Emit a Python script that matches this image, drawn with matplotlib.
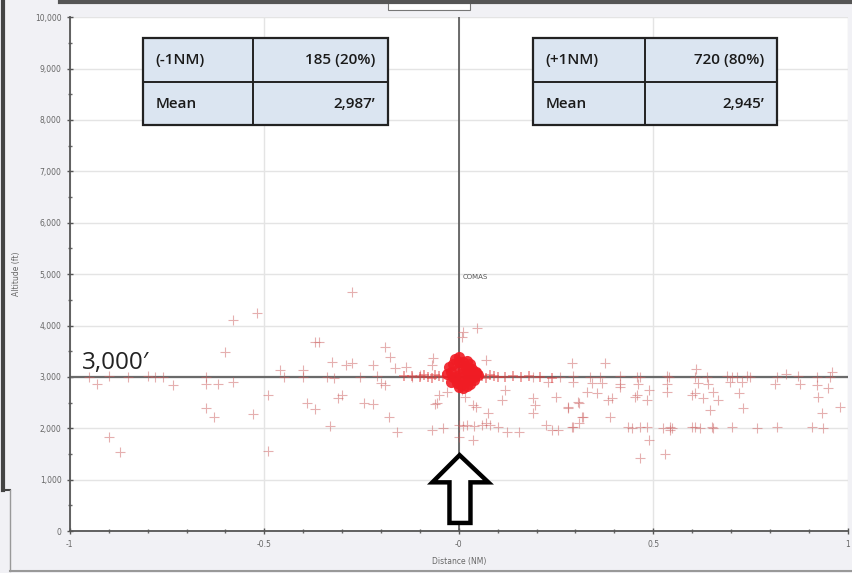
import matplotlib
matplotlib.use("Agg")
import matplotlib.pyplot as plt
from matplotlib.patches import Rectangle, Polygon
from matplotlib.ticker import MultipleLocator, FuncFormatter
from matplotlib.lines import Line2D

# --- data (distance NM, altitude ft) ---
west_pts = [(-0.95, 3000), (-0.90, 3010), (-0.85, 3000), (-0.80, 3020), (-0.78, 2990),
            (-0.76, 3000), (-0.93, 2860), (-0.735, 2840), (-0.65, 3000), (-0.65, 2860),
            (-0.62, 2860), (-0.58, 2900), (-0.65, 2390), (-0.63, 2220), (-0.53, 2280),
            (-0.90, 1830), (-0.87, 1540), (-0.49, 2650), (-0.58, 4100), (-0.52, 4240),
            (-0.60, 3480), (-0.275, 4650), (-0.37, 3680), (-0.36, 3680), (-0.325, 3290),
            (-0.29, 3230), (-0.275, 3270), (-0.19, 3580), (-0.177, 3390), (-0.165, 3170),
            (-0.135, 3190), (-0.067, 3370), (-0.07, 3230), (-0.46, 3130), (-0.40, 3130),
            (-0.22, 3230), (-0.40, 3000), (-0.34, 3000), (-0.255, 3000), (-0.21, 3020),
            (-0.12, 3000), (-0.10, 3040), (-0.20, 2880), (-0.19, 2840), (-0.32, 2980),
            (-0.39, 2490), (-0.37, 2370), (-0.31, 2590), (-0.30, 2650), (-0.245, 2490),
            (-0.22, 2470), (-0.18, 2220), (-0.16, 1930), (-0.33, 2040), (-0.06, 2470),
            (-0.07, 1960), (-0.04, 2000), (-0.49, 1560), (-0.45, 2990), (-0.03, 2700),
            (-0.05, 2650)]

east_pts = [(0.046, 3950), (0.01, 3870), (0.008, 3780), (0.07, 3330), (0.29, 3270),
            (0.19, 3000), (0.008, 2740), (0.015, 2610), (0.036, 2450), (0.045, 2410),
            (-0.057, 2490), (0.075, 2300), (0.07, 2100), (0.11, 2550), (0.12, 2740),
            (0.19, 2590), (0.195, 2450), (0.19, 2300), (0.23, 2900), (0.25, 2610),
            (0.28, 2410), (0.31, 2490), (0.32, 2220), (0.0, 2060), (0.01, 2050),
            (0.02, 2060), (0.04, 2050), (0.06, 2060), (0.08, 2060), (0.10, 2020),
            (0.125, 1930), (0.155, 1930), (0.225, 2060), (0.24, 1960), (0.255, 1960),
            (0.29, 2020), (0.31, 2100), (0.036, 1770), (0.0, 1830),
            (0.26, 3000), (0.293, 3010), (0.337, 2990), (0.362, 3000), (0.414, 3010),
            (0.458, 2990), (0.465, 3000), (0.535, 3010), (0.54, 2990), (0.607, 3000),
            (0.638, 3000), (0.689, 3010), (0.702, 2990), (0.715, 3000), (0.74, 3010),
            (0.748, 2990), (0.817, 3000), (0.871, 3010), (0.92, 3000), (0.954, 2990),
            (0.375, 3270), (0.61, 3150), (0.96, 3090), (0.84, 3050),
            (0.293, 2900), (0.342, 2880), (0.368, 2880), (0.414, 2860), (0.46, 2860),
            (0.535, 2860), (0.614, 2880), (0.64, 2860), (0.697, 2900), (0.728, 2900),
            (0.812, 2860), (0.877, 2860), (0.92, 2840),
            (0.33, 2700), (0.355, 2680), (0.414, 2800), (0.458, 2650), (0.49, 2740),
            (0.535, 2700), (0.60, 2650), (0.607, 2680), (0.627, 2590), (0.653, 2700),
            (0.666, 2550), (0.72, 2680), (0.95, 2780), (0.923, 2610),
            (0.306, 2510), (0.28, 2390), (0.383, 2550), (0.393, 2590), (0.452, 2610),
            (0.483, 2550), (0.645, 2350), (0.73, 2390), (0.933, 2300), (0.98, 2410),
            (0.316, 2220), (0.388, 2220),
            (0.293, 2020), (0.434, 2020), (0.445, 2010), (0.465, 2020), (0.483, 2020),
            (0.524, 2010), (0.542, 2030), (0.548, 2000), (0.60, 2020), (0.607, 2030),
            (0.62, 2010), (0.65, 2020), (0.653, 2000), (0.702, 2020), (0.766, 2010),
            (0.817, 2020), (0.907, 2020), (0.936, 2010),
            (0.49, 1770), (0.465, 1420), (0.53, 1500), (0.542, 1960)]

# dense blob right at the fix
blob_x = [-0.03, -0.02, -0.01, 0.0, 0.01, 0.02, 0.03, 0.04, 0.05,
          -0.025, -0.015, 0.0, 0.015, 0.025, 0.035, 0.045,
          -0.02, -0.005, 0.005, 0.02, 0.03, 0.04,
          -0.01, 0.0, 0.01, 0.02, 0.03,
          0.0, 0.01, 0.02,
          -0.015, 0.005, 0.025, 0.045]
blob_y = [3050, 3100, 2980, 3150, 3000, 3120, 3050, 2990, 3030,
          3200, 3250, 3300, 3220, 3180, 3150, 3100,
          2900, 2880, 2850, 2920, 2870, 2950,
          3350, 3380, 3300, 3320, 3250,
          2800, 2780, 2820,
          3000, 3050, 3000, 3080]

# band of crossings hugging the 3,000 ft line near the fix
band_x = [-0.14, -0.12, -0.10, -0.09, -0.08, -0.07, -0.06, -0.05, -0.04,
          0.06, 0.07, 0.08, 0.09, 0.10, 0.12, 0.14, 0.16, 0.18, 0.21, 0.24]
band_y = [3020, 3010, 2990, 3040, 3000, 2980, 3030, 3020, 2990,
          3010, 2980, 3040, 3010, 2990, 3000, 3020, 2990, 3010, 3000, 2980]

x_ticks = [-1, -0.5, 0, 0.5, 1]
x_labels = ["-1", "-0.5", "-0", "0.5", "1"]
left_table = [["(-1NM)", "185 (20%)"], ["Mean", "2,987\u2019"]]
right_table = [["(+1NM)", "720 (80%)"], ["Mean", "2,945\u2019"]]

fig = plt.figure(figsize=(8.52, 5.73), dpi=100, facecolor="#f1f1f5")
ax = fig.add_axes([0.082, 0.073, 0.913, 0.897])
ax.set_facecolor("white")

ax.set_xlim(-1, 1)
ax.set_ylim(0, 10000)
ax.xaxis.set_minor_locator(MultipleLocator(0.1))
ax.yaxis.set_major_locator(MultipleLocator(1000))
ax.yaxis.set_minor_locator(MultipleLocator(500))
ax.set_xticks(x_ticks)
ax.set_xticklabels(x_labels)
ax.yaxis.set_major_formatter(FuncFormatter(lambda v, p: f"{int(v):,}"))
ax.tick_params(which="major", direction="inout", length=5, width=1, color="#555",
               labelsize=5.5, labelcolor="#666")
ax.tick_params(which="minor", direction="inout", length=3, width=1, color="#666")
ax.grid(True, which="major", color="#e4e4e4", lw=1)
ax.set_axisbelow(True)
for s in ["top", "right"]:
    ax.spines[s].set_visible(False)
for s in ["left", "bottom"]:
    ax.spines[s].set_color("#555")
    ax.spines[s].set_linewidth(1.3)
ax.set_xlabel("Distance (NM)", fontsize=5.5, color="#666", labelpad=6)
ax.set_ylabel("Altitude (ft)", fontsize=5.5, color="#666", labelpad=10)

# reference lines
ax.axhline(3000, color="#6a6a6a", lw=1.6, zorder=2)
ax.axvline(0, color="#555", lw=1.2, zorder=2)
ax.text(0.01, 4950, "COMAS", fontsize=5, color="#555", va="center")

mk = dict(ls="none", marker="+", color="#cc6060", alpha=0.5, ms=7, mew=0.8, zorder=3)
ax.plot([p[0] for p in west_pts], [p[1] for p in west_pts], **mk)
ax.plot([p[0] for p in east_pts], [p[1] for p in east_pts], **mk)
ax.plot(band_x, band_y, ls="none", marker="+", color="#e03a3a", alpha=0.6,
        ms=7, mew=1.1, zorder=3)
ax.plot(blob_x, blob_y, ls="none", marker="o", color="#f01c24", alpha=0.9,
        ms=8, mew=0, zorder=4)

ax.text(0.015, 0.316, "3,000\u2032", transform=ax.transAxes, fontsize=17.5,
        family="Open Sans", color="#222", zorder=6)


def draw_table(x0, x_mid, x1, rows):
    y_top, y_mid, y_bot = 0.959, 0.873, 0.790
    ax.add_patch(Rectangle((x0, y_bot), x1 - x0, y_top - y_bot, transform=ax.transAxes,
                           facecolor="#dbe5f1", edgecolor="#222", lw=1.6, zorder=7))
    ax.add_line(Line2D([x_mid, x_mid], [y_bot, y_top], transform=ax.transAxes,
                       color="#222", lw=1.4, zorder=8))
    ax.add_line(Line2D([x0, x1], [y_mid, y_mid], transform=ax.transAxes,
                       color="#222", lw=1.4, zorder=8))
    for (label, value), yc in zip(rows, [(y_top + y_mid) / 2, (y_mid + y_bot) / 2]):
        ax.text(x0 + 0.016, yc, label, transform=ax.transAxes, fontsize=11,
                family="Open Sans", weight="semibold", va="center", ha="left",
                color="#1a1a1a", zorder=9)
        ax.text(x1 - 0.016, yc, value, transform=ax.transAxes, fontsize=11,
                family="Open Sans", weight="semibold", va="center", ha="right",
                color="#1a1a1a", zorder=9)


draw_table(0.094, 0.235, 0.409, left_table)
draw_table(0.595, 0.739, 0.909, right_table)

# hollow up-arrow under the fix
arrow = [(0.501, 0.148), (0.538, 0.095), (0.515, 0.095), (0.515, 0.016),
         (0.488, 0.016), (0.488, 0.095), (0.466, 0.095)]
ax.add_patch(Polygon(arrow, closed=True, transform=ax.transAxes, facecolor="white",
                     edgecolor="black", lw=3.2, joinstyle="miter", zorder=8))

# screenshot frame bits
fig.add_artist(Line2D([0.004, 0.004], [1.0, 0.145], color="#444", lw=3))
fig.add_artist(Line2D([0.004, 0.012], [0.145, 0.145], color="#444", lw=1.5))
fig.add_artist(Line2D([0.012, 0.012], [0.145, 0.004], color="#999", lw=1))
fig.add_artist(Line2D([0.012, 1.0], [0.004, 0.004], color="#999", lw=1.5))
fig.add_artist(Line2D([0.07, 1.0], [0.997, 0.997], color="#555", lw=3))
fig.add_artist(Rectangle((0.455, 0.982), 0.097, 0.02, transform=fig.transFigure,
                         facecolor="white", edgecolor="#777", lw=0.8))

fig.savefig("out.png", dpi=100, facecolor=fig.get_facecolor())
